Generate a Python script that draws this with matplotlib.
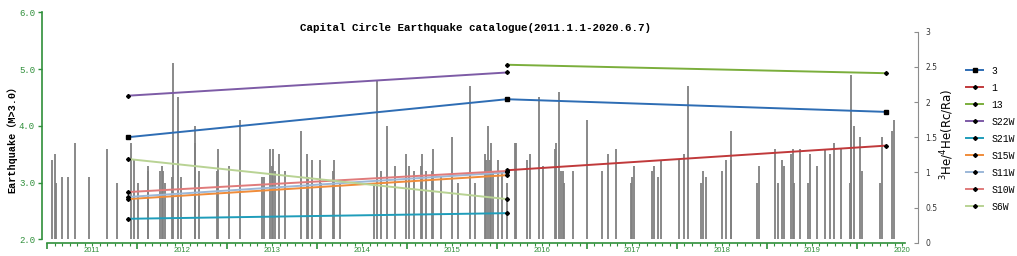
import numpy as np
import matplotlib
matplotlib.use("Agg")
import matplotlib.pyplot as plt
from matplotlib.lines import Line2D
from matplotlib.ticker import FixedLocator, FuncFormatter, NullFormatter

# === Earthquake catalogue (decimal year, magnitude) ===
quake_time = [
    2011.05, 2011.09, 2011.10, 2011.17, 2011.23, 2011.31, 2011.47, 2011.67, 2011.78,
    2011.93, 2011.97, 2012.01, 2012.12, 2012.12, 2012.26, 2012.28, 2012.29, 2012.31,
    2012.39, 2012.40, 2012.46, 2012.49,
    2012.64, 2012.64, 2012.69, 2012.89, 2012.90, 2013.02, 2013.14, 2013.39, 2013.41,
    2013.48, 2013.50, 2013.51, 2013.53, 2013.58, 2013.64, 2013.82, 2013.89, 2013.90,
    2013.94, 2014.03, 2014.04,
    2014.18, 2014.19, 2014.25, 2014.63, 2014.67, 2014.71, 2014.78, 2014.87, 2014.99,
    2015.02, 2015.08, 2015.16, 2015.17, 2015.21, 2015.28, 2015.29, 2015.38, 2015.50,
    2015.57, 2015.70, 2015.76,
    2015.87, 2015.88, 2015.90, 2015.92, 2015.93, 2015.95, 2016.01, 2016.06, 2016.11,
    2016.20, 2016.21, 2016.33, 2016.37, 2016.47, 2016.51, 2016.64, 2016.66, 2016.69,
    2016.71, 2016.73, 2016.74, 2016.85, 2017.00, 2017.17, 2017.23, 2017.32,
    2017.49, 2017.50, 2017.52, 2017.72, 2017.74, 2017.79, 2017.82, 2018.02, 2018.08,
    2018.12, 2018.27, 2018.29, 2018.32, 2018.50, 2018.54, 2018.60, 2018.60, 2018.89,
    2018.91,
    2019.09, 2019.12, 2019.17, 2019.19, 2019.27, 2019.29, 2019.30, 2019.37, 2019.45,
    2019.48, 2019.55, 2019.64, 2019.70, 2019.74, 2019.82, 2019.92, 2019.93, 2019.93,
    2019.97, 2020.03, 2020.05, 2020.25, 2020.28, 2020.39, 2020.41,
]
quake_mag = [
    3.4, 3.5, 3.0, 3.1, 3.1, 3.7, 3.1, 3.6, 3.0,
    3.7, 3.4, 3.0, 3.3, 3.2, 3.2, 3.3, 3.2, 3.0,
    3.1, 5.1, 4.5, 3.1,
    4.0, 3.7, 3.2, 3.2, 3.6, 3.3, 4.1, 3.1, 3.1,
    3.6, 3.3, 3.6, 3.2, 3.5, 3.2, 3.9, 3.5, 3.1,
    3.4, 3.4, 3.0,
    3.2, 3.4, 3.0, 3.0, 4.8, 3.2, 4.0, 3.3, 3.5,
    3.3, 3.2, 3.3, 3.5, 3.2, 3.2, 3.6, 3.1, 3.8,
    3.0, 4.7, 3.0,
    3.5, 3.4, 4.0, 3.4, 3.7, 3.2, 3.4, 3.2, 3.0,
    3.7, 3.7, 3.4, 3.5, 4.5, 3.3, 3.6, 3.7, 4.6,
    3.2, 3.2, 3.0, 3.2, 4.1, 3.2, 3.5, 3.6,
    3.0, 3.1, 3.3, 3.2, 3.3, 3.1, 3.4, 3.4, 3.5,
    4.7, 3.0, 3.2, 3.1, 3.2, 3.4, 3.9, 3.4, 3.0,
    3.3,
    3.6, 3.0, 3.4, 3.3, 3.5, 3.6, 3.0, 3.6, 3.0,
    3.5, 3.3, 3.6, 3.5, 3.7, 3.6, 3.0, 4.1, 4.9,
    4.0, 3.8, 3.2, 3.0, 3.8, 3.9, 4.1,
]

# === 3He/4He ratios (Rc/Ra) at three sampling campaigns ===
he_time = [2011.90, 2016.11, 2020.32]
he_3 = [1.50, 2.04, 1.86]
he_1 = [np.nan, 1.03, 1.38]
he_13 = [np.nan, 2.53, 2.41]
he_S22W = [2.09, 2.42, np.nan]
he_S21W = [0.34, 0.42, np.nan]
he_S15W = [0.62, 0.96, np.nan]
he_S11W = [0.65, 1.00, np.nan]
he_S10W = [0.72, 1.02, np.nan]
he_S6W = [1.19, 0.62, np.nan]

years = list(range(2011, 2021))

W, H = 1017, 256
GREEN = "#2f8f3a"
fig = plt.figure(figsize=(W / 100, H / 100), dpi=100)

x_lo = 2011 - 5 / 90
x_hi = 2011 + (905 - 47) / 90

# --- earthquake bars, left axis ---
ax1 = fig.add_axes([42 / W, 16.7 / H, (905 - 42) / W, 227 / H])
ax1.vlines(quake_time, 2.0, quake_mag, color="#808080", linewidth=1.3)
ax1.set_xlim(x_lo, x_hi)
ax1.set_ylim(2.0, 6.0)
for s in ["top", "right"]:
    ax1.spines[s].set_visible(False)
ax1.spines["left"].set_color(GREEN)
ax1.spines["left"].set_linewidth(1.2)
ax1.spines["bottom"].set_color(GREEN)
ax1.spines["bottom"].set_linewidth(1.2)
ax1.spines["bottom"].set_position(("outward", 2.5))
ax1.spines["bottom"].set_bounds(2011, x_hi)
ax1.set_yticks([2, 3, 4, 5, 6])
ax1.yaxis.set_major_formatter(FuncFormatter(lambda v, p: "%.1f" % v))
ax1.tick_params(axis="y", colors=GREEN, labelsize=6.5, length=3, width=1, pad=2)
for t in ax1.get_yticklabels():
    t.set_family("Liberation Mono")
ax1.xaxis.set_major_locator(FixedLocator(years))
ax1.xaxis.set_major_formatter(NullFormatter())
ax1.xaxis.set_minor_locator(FixedLocator([y + m / 12 for y in years for m in range(1, 12) if y + m / 12 < x_hi]))
ax1.tick_params(axis="x", which="major", colors=GREEN, length=4, width=1.2)
ax1.tick_params(axis="x", which="minor", colors=GREEN, length=2, width=0.8)
for y in years:
    ax1.text(y + 0.5, -0.032, str(y), transform=ax1.get_xaxis_transform(),
             ha="center", va="top", fontsize=5.5, color=GREEN, family="Liberation Sans")

# --- helium ratios, right axis ---
ax2 = fig.add_axes([42 / W, 13.3 / H, (905 - 42) / W, 211 / H])
ax2.patch.set_visible(False)
ax2.set_xlim(x_lo, x_hi)
ax2.set_ylim(0, 3)
for s in ["top", "left", "bottom"]:
    ax2.spines[s].set_visible(False)
ax2.spines["right"].set_position(("outward", 9.4))
ax2.spines["right"].set_color("#8c8c8c")
ax2.spines["right"].set_linewidth(0.8)
ax2.set_xticks([])
ax2.yaxis.tick_right()
ax2.set_yticks([0, 0.5, 1, 1.5, 2, 2.5, 3])
ax2.yaxis.set_major_formatter(FuncFormatter(lambda v, p: "%g" % v))
ax2.tick_params(axis="y", direction="in", length=3, width=0.8, color="#8c8c8c",
                labelsize=5.5, labelcolor="#333333", pad=5)

series = [
    ("3", he_3, "#2e6db4", "s", 3.2),
    ("1", he_1, "#c0393b", "D", 2),
    ("13", he_13, "#7bae3c", "D", 2),
    ("S22W", he_S22W, "#7d5ba6", "D", 2),
    ("S21W", he_S21W, "#1f9dba", "D", 2),
    ("S15W", he_S15W, "#f08c3a", "D", 2),
    ("S11W", he_S11W, "#9cb8d8", "D", 2),
    ("S10W", he_S10W, "#e07b7b", "D", 2),
    ("S6W", he_S6W, "#b9d394", "D", 2),
]
handles = []
for name, vals, col, mk, ms in series:
    ax2.plot(he_time, vals, color=col, linewidth=1.4, marker=mk, markersize=ms,
             markerfacecolor="black", markeredgecolor="black")
    handles.append(Line2D([], [], color=col, linewidth=1.4, marker=mk, markersize=ms,
                          markerfacecolor="black", markeredgecolor="black", label=name))

leg = fig.legend(handles=handles, loc="upper left", bbox_to_anchor=(962 / W, 1 - 62 / H),
                 frameon=False, fontsize=7, handlelength=1.8, labelspacing=0.72,
                 handletextpad=0.8, borderaxespad=0)
for t in leg.get_texts():
    t.set_family("Liberation Mono")

fig.text(476 / W, 1 - 28 / H, "Capital Circle Earthquake catalogue(2011.1.1-2020.6.7)",
         ha="center", va="center", fontsize=7.8, weight="bold", family="Liberation Mono")
fig.text(12 / W, 1 - 137 / H, "Earthquake（M>3.0）", rotation=90, ha="center", va="center",
         fontsize=7.3, weight="bold", family=["Liberation Mono", "Noto Sans CJK SC"])
fig.text(947 / W, 1 - 134 / H, r"$^{3}$He/$^{4}$He(Rc/Ra)", rotation=90, ha="center",
         va="center", fontsize=8.5, family="DejaVu Sans")

fig.savefig("out.png", dpi=100)
